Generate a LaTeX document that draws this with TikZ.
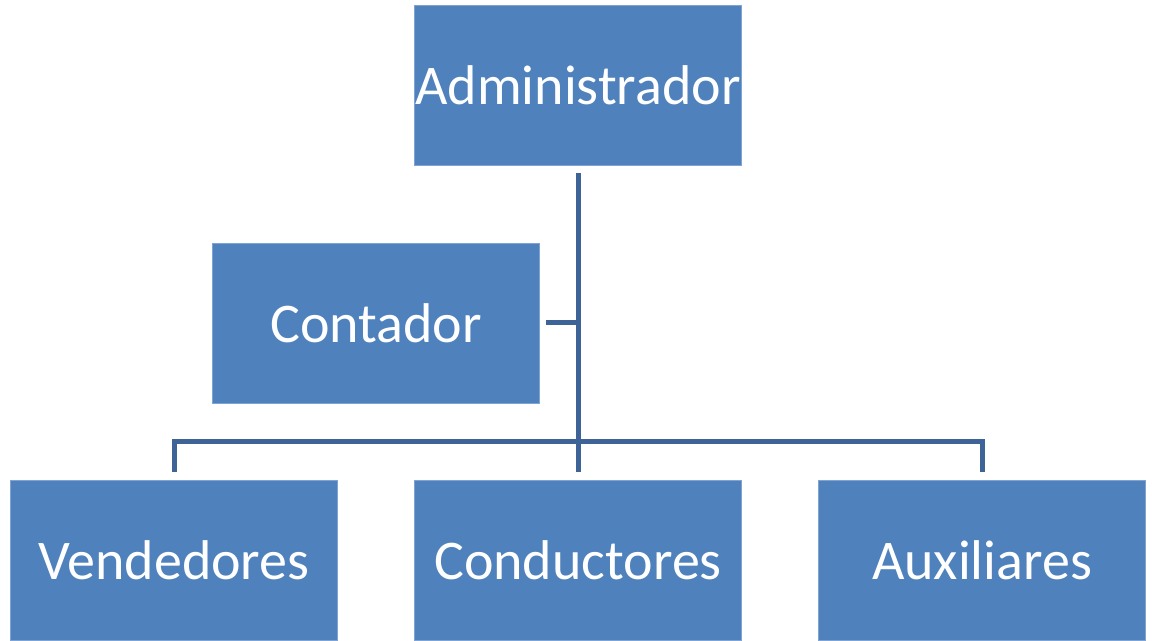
\documentclass[tikz,border=0pt]{standalone}
\usepackage{fontspec}
\setmainfont{Carlito}
\definecolor{boxblue}{HTML}{4F81BD}
\definecolor{boxedge}{HTML}{7FA3D3}
\definecolor{linkblue}{HTML}{3E6497}
\begin{document}
\begin{tikzpicture}[x=0.75pt,y=-0.75pt]
\tikzstyle{puesto}=[rectangle,fill=boxblue,draw=boxedge,line width=0.6pt,minimum width=245pt,minimum height=120pt,inner sep=0pt,text=white,font=\fontsize{42}{48}\selectfont];
\tikzstyle{link}=[draw=linkblue,line width=3.75pt];
\useasboundingbox (0,0) rectangle (1152,641);
\node[puesto] (admin) at (578,85.5) {Administrador};
\node[puesto] (contador) at (376,323) {Contador};
\node[puesto] (vend) at (174,560) {Vendedores};
\node[puesto] (cond) at (578,560) {Conductores};
\node[puesto] (aux) at (982,560) {Auxiliares};
\coordinate (bus) at (578,441);
\draw[link,shorten <=5.5pt,shorten >=6pt] (admin) -- (cond);
\draw[link,shorten <=4.5pt] (contador.east) -- (contador.east -| admin);
\draw[link,shorten <=6pt,shorten >=6pt] (vend.north) |- (bus) -| (aux.north);
%\draw (bus) -- (cond);
\end{tikzpicture}
\end{document}
